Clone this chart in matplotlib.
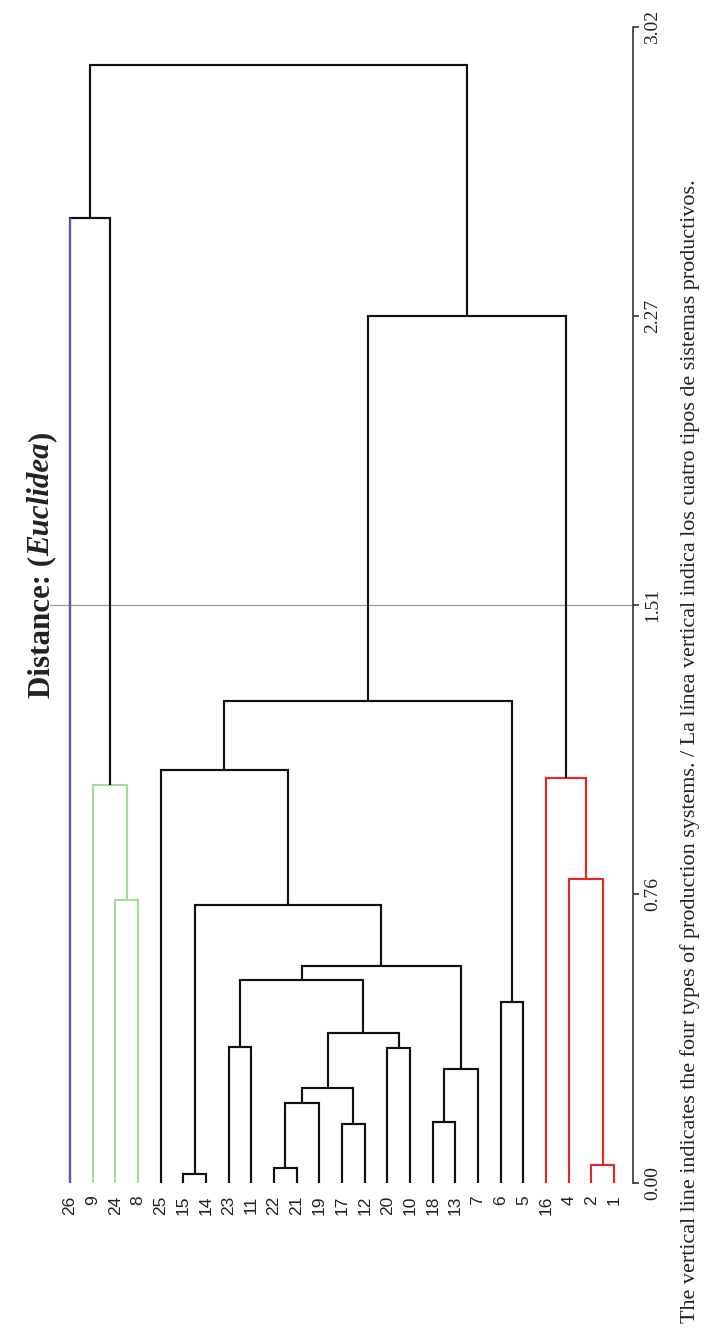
import matplotlib
matplotlib.use("Agg")
import matplotlib.pyplot as plt

# ---------------- data ----------------
leaves = ['26', '9', '24', '8', '25', '15', '14', '23', '11', '22', '21', '19',
          '17', '12', '20', '10', '18', '13', '7', '6', '5', '16', '4', '2', '1']

merge_left = ['15', '22', '2', '17', '18', 'm1', 'm5', 'm4', '20', '23', 'm6', '6',
              'm9', 'm12', 'm0', '24', '4', '9', '16', '25', 'm19', 'm20', '26', 'm22']
merge_right = ['14', '21', '1', '12', '13', '19', 'm3', '7', '10', '11', 'm8', '5',
               'm10', 'm7', 'm13', '8', 'm2', 'm15', 'm16', 'm14', 'm11', 'm18', 'm17', 'm21']
merge_height = [0.024, 0.038, 0.048, 0.155, 0.160, 0.208, 0.247, 0.298, 0.352, 0.354,
                0.391, 0.473, 0.531, 0.566, 0.725, 0.740, 0.793, 1.039, 1.058, 1.080,
                1.259, 2.265, 2.520, 2.920]
merge_group = ['k', 'k', 'r', 'k', 'k', 'k', 'k', 'k', 'k', 'k', 'k', 'k',
               'k', 'k', 'k', 'g', 'r', 'g', 'r', 'k', 'k', 'k', 'k', 'k']
leaf_group = {'26': 'b'}

tick_values = [0.0, 0.755, 1.51, 2.265, 3.02]
tick_labels = ['0.00', '0.76', '1.51', '2.27', '3.02']
cut_height = 1.51

title_parts = ['Distance: (', 'Euclidea', ')']
caption = ('The vertical line indicates the four types of production systems. / '
           'La línea vertical indica los cuatro tipos de sistemas productivos.')

palette = {'k': '#111111', 'r': '#e8262a', 'g': '#a6d99c', 'b': '#5a58b0'}

# ---------------- figure ----------------
W, H = 709, 1331
fig = plt.figure(figsize=(W / 100, H / 100), dpi=100)
px_leaf = 22.667
x_left = -(70 - 50) / px_leaf
x_right = (len(leaves) - 1) + (633 - 614) / px_leaf
ax = fig.add_axes([50 / W, (H - 1183) / H, (633 - 50) / W, (1183 - 27) / H])
ax.set_xlim(x_left, x_right)
ax.set_ylim(0, 3.02)

pos = {lf: i for i, lf in enumerate(leaves)}
hgt = {lf: 0.0 for lf in leaves}
lw = 1.55
for i, (l, r, h, g) in enumerate(zip(merge_left, merge_right, merge_height, merge_group)):
    c = palette[g]
    cl = palette[leaf_group[l]] if l in leaf_group else c
    cr = palette[leaf_group[r]] if r in leaf_group else c
    xl, xr = pos[l], pos[r]
    ax.plot([xl, xl, xr, xr], [hgt[l], h, h, hgt[r]], color=c, lw=lw,
            solid_joinstyle='miter', solid_capstyle='butt', zorder=3)
    if cl != c:
        ax.plot([xl, xl], [hgt[l], h], color=cl, lw=lw, solid_capstyle='butt', zorder=4)
    if cr != c:
        ax.plot([xr, xr], [hgt[r], h], color=cr, lw=lw, solid_capstyle='butt', zorder=4)
    name = f'm{i}'
    pos[name] = (xl + xr) / 2
    hgt[name] = h

ax.axhline(cut_height, color='#9a9a9a', lw=0.9, zorder=1)

for s in ['top', 'left', 'bottom']:
    ax.spines[s].set_visible(False)
ax.spines['right'].set_color('#333333')
ax.spines['right'].set_linewidth(1.2)
ax.yaxis.tick_right()
ax.set_yticks(tick_values)
ax.set_yticklabels(tick_labels, fontfamily='Liberation Serif', fontsize=14,
                   color='#222222', rotation=90, va='center')
ax.tick_params(axis='y', direction='out', length=4, width=1.2, color='#333333', pad=4)

ax.set_xticks(range(len(leaves)))
ax.set_xticklabels(leaves, fontfamily='Liberation Sans', fontsize=12.5, rotation=90,
                   color='#222222')
ax.tick_params(axis='x', length=0, pad=9)

# caption on the right, rotated
fig.text(690 / W, 1 - 751 / H, caption, rotation=90, ha='center', va='center',
         fontfamily='Liberation Serif', fontsize=15.95, color='#222222')

# title: pieces on a common baseline, reading upward
fig.canvas.draw()
renderer = fig.canvas.get_renderer()
x_base = 49 / W
y_cur = 1 - 698 / H
styles = ['normal', 'italic', 'normal']
for part, st in zip(title_parts, styles):
    t = fig.text(x_base, y_cur, part, rotation=90, rotation_mode='anchor',
                 ha='left', va='baseline', fontfamily='Liberation Serif',
                 fontweight='bold', fontstyle=st, fontsize=22.3, color='#222222')
    bb = t.get_window_extent(renderer)
    y_cur += bb.height / H

fig.savefig('out.png', dpi=100)
